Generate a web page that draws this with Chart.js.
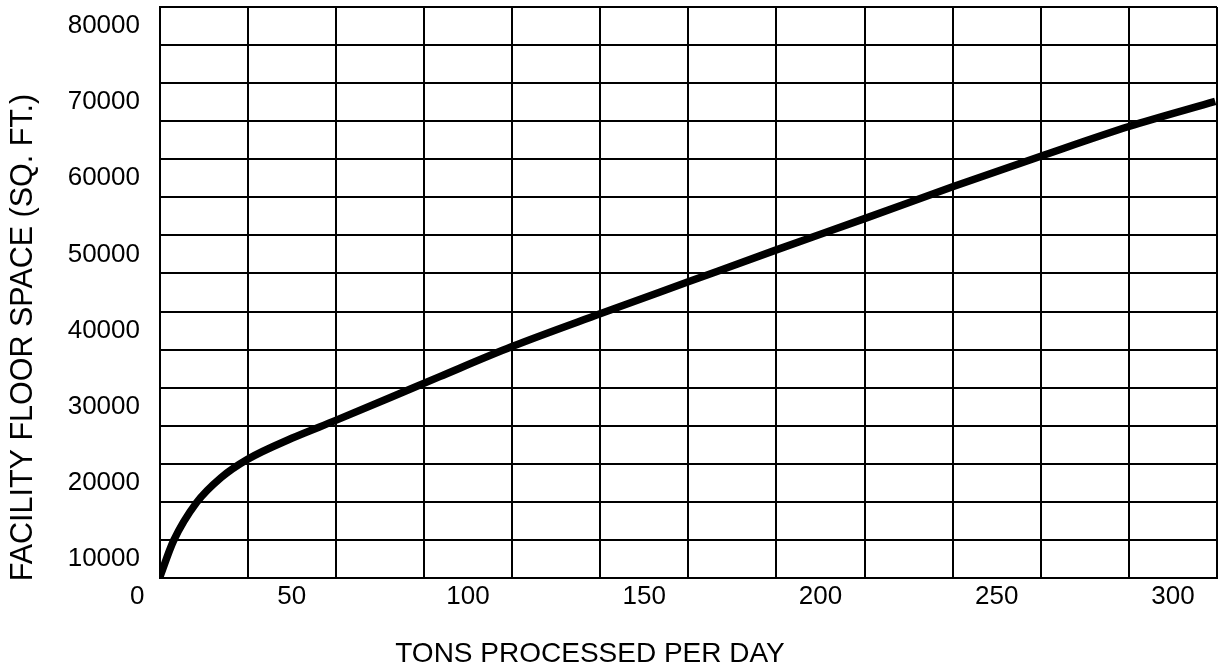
<!DOCTYPE html>
<html>
<head>
<meta charset="utf-8">
<script src="https://cdn.jsdelivr.net/npm/chart.js@4.4.1/dist/chart.umd.min.js"></script>
<style>
  html, body { margin: 0; padding: 0; background: #fff; }
  #wrap { width: 1221px; height: 668px; }
</style>
</head>
<body>
<div id="wrap"><canvas id="floorChart"></canvas></div>
<script>
// points
const tonsPerDay = [12.5, 16.5, 23, 30, 37.5, 50, 62.5, 78, 92, 112.5, 137.5, 162.5, 187.5, 212.5, 237.5, 262.5, 287.5, 312];
const floorSpace = [7500, 12400, 17400, 20700, 23100, 25850, 28200, 31200, 33950, 37900, 42200, 46400, 50600, 54700, 58900, 62900, 66800, 70100];

// axis labels as printed
const xTickLabels = [0, 50, 100, 150, 200, 250, 300];
const yTickLabels = [10000, 20000, 30000, 40000, 50000, 60000, 70000, 80000];

// the grid sits half a cell off the labels in the original
const xGrid = [];
for (let v = 12.5; v <= 312.5; v += 25) xGrid.push(v);
const yGrid = [];
for (let v = 7500; v <= 82500; v += 5000) yGrid.push(v);
const xZeroAt = 6.2; // "0" is printed at the corner, left of the grid

const FONT = "'Liberation Sans', Arial, Helvetica, sans-serif";
Chart.defaults.font.family = FONT;
Chart.defaults.color = '#000';

function noPad(scale) {
    scale.paddingLeft = 0;
    scale.paddingRight = 0;
    scale.paddingTop = 0;
    scale.paddingBottom = 0;
}

const ctx = document.getElementById('floorChart').getContext('2d');
new Chart(ctx, {
    type: 'line',
    data: {
        datasets: [{
            data: tonsPerDay.map((t, i) => ({ x: t, y: floorSpace[i] })),
            borderColor: '#000',
            borderWidth: 7.5,
            pointRadius: 0,
            cubicInterpolationMode: 'monotone',
            fill: false
        }]
    },
    options: {
        responsive: true,
        maintainAspectRatio: false,
        animation: false,
        layout: { padding: { left: -37, top: 7, right: 4, bottom: 0 } },
        plugins: {
            legend: { display: false },
            tooltip: { enabled: false },
            title: {
                display: true,
                position: 'left',
                text: 'FACILITY FLOOR SPACE (SQ. FT.)',
                color: '#000',
                font: { size: 30.5, weight: 'normal', lineHeight: 1.2 },
                padding: { top: 42.7, bottom: 0 }
            },
            subtitle: {
                display: true,
                position: 'bottom',
                text: 'TONS PROCESSED PER DAY',
                color: '#000',
                font: { size: 28, weight: 'normal', lineHeight: 1 },
                padding: 0
            }
        },
        scales: {
            x: {
                type: 'linear',
                min: 12.5,
                max: 312.5,
                afterBuildTicks: function(scale) {
                    const vals = [xZeroAt].concat(xGrid, xTickLabels.filter(v => v > 0));
                    vals.sort((a, b) => a - b);
                    scale.ticks = vals.map(v => ({ value: v }));
                },
                afterFit: function(scale) {
                    scale.height = 62;
                    noPad(scale);
                },
                grid: {
                    color: c => (c.tick && xGrid.includes(c.tick.value)) ? '#000' : 'rgba(0,0,0,0)',
                    lineWidth: 2,
                    drawTicks: false
                },
                border: { color: '#000', width: 2 },
                ticks: {
                    autoSkip: false,
                    maxRotation: 0,
                    padding: 3,
                    color: '#000',
                    font: { size: 26 },
                    callback: function(value) {
                        if (value === xZeroAt) return '0';
                        return xTickLabels.includes(value) ? String(value) : '';
                    }
                }
            },
            y: {
                type: 'linear',
                min: 7500,
                max: 82500,
                afterBuildTicks: function(scale) {
                    const vals = yGrid.concat(yTickLabels);
                    vals.sort((a, b) => a - b);
                    scale.ticks = vals.map(v => ({ value: v }));
                },
                afterFit: function(scale) {
                    scale.width = 117.2;
                    noPad(scale);
                },
                grid: {
                    color: c => (c.tick && yGrid.includes(c.tick.value)) ? '#000' : 'rgba(0,0,0,0)',
                    lineWidth: 2,
                    drawTicks: false
                },
                border: { color: '#000', width: 2 },
                ticks: {
                    autoSkip: false,
                    padding: 19.5,
                    color: '#000',
                    font: { size: 26 },
                    callback: function(value) {
                        return yTickLabels.includes(value) ? String(value) : '';
                    }
                }
            }
        }
    }
});
</script>
</body>
</html>
